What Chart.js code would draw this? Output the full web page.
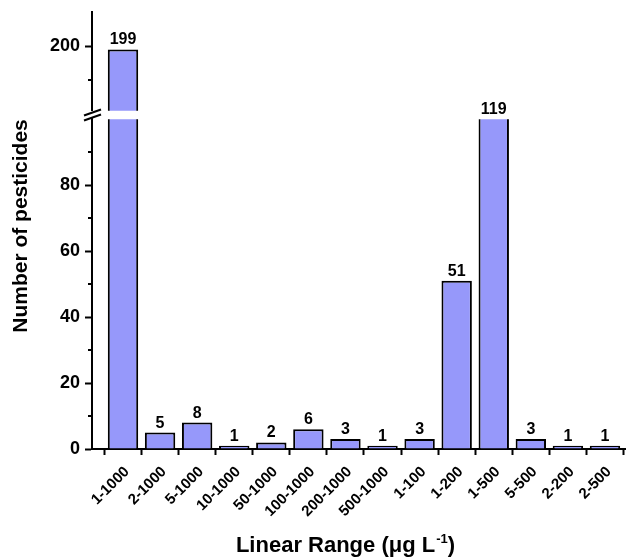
<!DOCTYPE html>
<html><head><meta charset="utf-8">
<script src="https://cdn.jsdelivr.net/npm/chart.js@4"></script>
<style>html,body{margin:0;padding:0;background:#fff}#wrap{width:627px;height:560px}</style>
</head><body><div id="wrap"><canvas id="c" width="627" height="560"></canvas></div>
<script>
const categories = ['1-1000','2-1000','5-1000','10-1000','50-1000','100-1000','200-1000','500-1000','1-100','1-200','1-500','5-500','2-200','2-500'];
const counts = [199,5,8,1,2,6,3,1,3,51,119,3,1,1];
const lowerTicks = [0,20,40,60,80];
const lowerMinorTicks = [10,30,50,70,90];
const upperTicks = [200];
const upperMinorTicks = [190];
const lowerRange = [0,100];
const upperRange = [181,210];
const xTitle = 'Linear Range (\u03BCg L';
const xTitleSup = '-1';
const yTitle = 'Number of pesticides';

const FONT = "Arial, 'Liberation Sans', Helvetica, sans-serif";
const BAR = 'rgb(150,152,250)';

const deco = {
  id: 'deco',
  afterDatasetsDraw(chart) {
    const ctx = chart.ctx;
    const low = chart.getDatasetMeta(0), high = chart.getDatasetMeta(1);
    const yLow = chart.scales.yLow, yHigh = chart.scales.yHigh, yGap = chart.scales.yGap;
    ctx.save();
    // value labels
    ctx.font = 'bold 16px ' + FONT;
    ctx.fillStyle = '#000';
    ctx.textAlign = 'center';
    ctx.textBaseline = 'alphabetic';
    counts.forEach((v, i) => {
      const useHigh = v > upperRange[0];
      const el = useHigh ? high.data[i] : low.data[i];
      const top = Math.max(el.y, useHigh ? yHigh.top : yLow.top);
      ctx.fillText(String(v), el.x, top - 5);
    });
    // minor ticks
    ctx.strokeStyle = '#000';
    ctx.lineWidth = 2;
    const ax = yLow.right;
    const minor = (scale, vals) => vals.forEach(v => {
      const p = Math.round(scale.getPixelForValue(v));
      ctx.beginPath(); ctx.moveTo(ax - 4, p); ctx.lineTo(ax, p); ctx.stroke();
    });
    minor(yLow, lowerMinorTicks);
    minor(yHigh, upperMinorTicks);
    // break marks
    const cy = (yGap.top + yGap.bottom) / 2;
    ctx.lineWidth = 2;
    [-2.5, 2.5].forEach(d => {
      ctx.beginPath();
      ctx.moveTo(ax - 8, cy + d + 3);
      ctx.lineTo(ax + 9, cy + d - 3);
      ctx.stroke();
    });
    // y title
    ctx.save();
    ctx.translate(21, 226);
    ctx.rotate(-Math.PI / 2);
    ctx.font = 'bold 21px ' + FONT;
    ctx.textAlign = 'center';
    ctx.textBaseline = 'middle';
    ctx.fillText(yTitle, 0, 0);
    ctx.restore();
    // x title with superscript
    ctx.font = 'bold 22px ' + FONT;
    const w1 = ctx.measureText(xTitle).width;
    const w3 = ctx.measureText(')').width;
    ctx.font = 'bold 13px ' + FONT;
    const w2 = ctx.measureText(xTitleSup).width;
    let x0 = 345 - (w1 + w2 + w3) / 2;
    const by = 552;
    ctx.textAlign = 'left';
    ctx.textBaseline = 'alphabetic';
    ctx.font = 'bold 22px ' + FONT;
    ctx.fillText(xTitle, x0, by);
    ctx.font = 'bold 13px ' + FONT;
    ctx.fillText(xTitleSup, x0 + w1 + 1, by - 9);
    ctx.font = 'bold 22px ' + FONT;
    ctx.fillText(')', x0 + w1 + w2 + 1, by);
    ctx.restore();
  }
};

const tickFont = { family: FONT, size: 18, weight: 'bold' };
const yBase = (min, max, weight, ticks) => ({
  type: 'linear', position: 'left', stack: 'y', stackWeight: weight,
  min, max,
  afterBuildTicks: s => { s.ticks = ticks.map(v => ({ value: v })); },
  afterFit: s => { s.width = 92; s.paddingTop = 0; },
  ticks: { font: tickFont, color: '#000', padding: 5 },
  grid: { drawOnChartArea: false, tickLength: 7, tickWidth: 2, tickColor: '#000' },
  border: { display: true, color: '#000', width: 2 }
});

const barStyle = {
  grouped: false, barPercentage: 0.82, categoryPercentage: 1,
  backgroundColor: BAR, borderColor: '#000', borderWidth: 2, clip: 0
};

new Chart(document.getElementById('c'), {
  type: 'bar',
  data: {
    datasets: [
      Object.assign({ label: 'lower', yAxisID: 'yLow', data: counts.map((v, i) => ({ x: i, y: v })) }, barStyle),
      Object.assign({ label: 'upper', yAxisID: 'yHigh', data: counts.map((v, i) => ({ x: i, y: v > upperRange[0] ? v : null })) }, barStyle)
    ]
  },
  options: {
    responsive: false,
    animation: false,
    layout: { padding: { top: 12, right: 2, left: 0, bottom: 0 } },
    plugins: { legend: { display: false }, tooltip: { enabled: false }, colors: { enabled: false } },
    scales: {
      x: {
        type: 'linear', min: -0.836, max: 13.54, offset: false,
        afterBuildTicks: s => { s.ticks = categories.map((c, i) => ({ value: i })); },
        afterFit: s => { s.height = 111; },
        ticks: {
          autoSkip: false, maxRotation: 45, minRotation: 45, includeBounds: false,
          font: { family: FONT, size: 15, weight: 'bold' }, color: '#000', padding: 8,
          labelOffset: 4,
          callback: v => categories[v] ?? ''
        },
        grid: { drawOnChartArea: false, tickLength: 6, tickWidth: 2, tickColor: '#000' },
        border: { display: true, color: '#000', width: 2 }
      },
      yLow: yBase(lowerRange[0], lowerRange[1], 329, lowerTicks),
      yGap: {
        type: 'linear', position: 'left', stack: 'y', stackWeight: 8.4, min: 0, max: 1,
        afterBuildTicks: s => { s.ticks = []; },
        afterFit: s => { s.width = 92; },
        ticks: { display: false }, grid: { display: false }, border: { display: false }
      },
      yHigh: yBase(upperRange[0], upperRange[1], 98.6, upperTicks)
    }
  },
  plugins: [deco]
});
</script>
</body></html>
